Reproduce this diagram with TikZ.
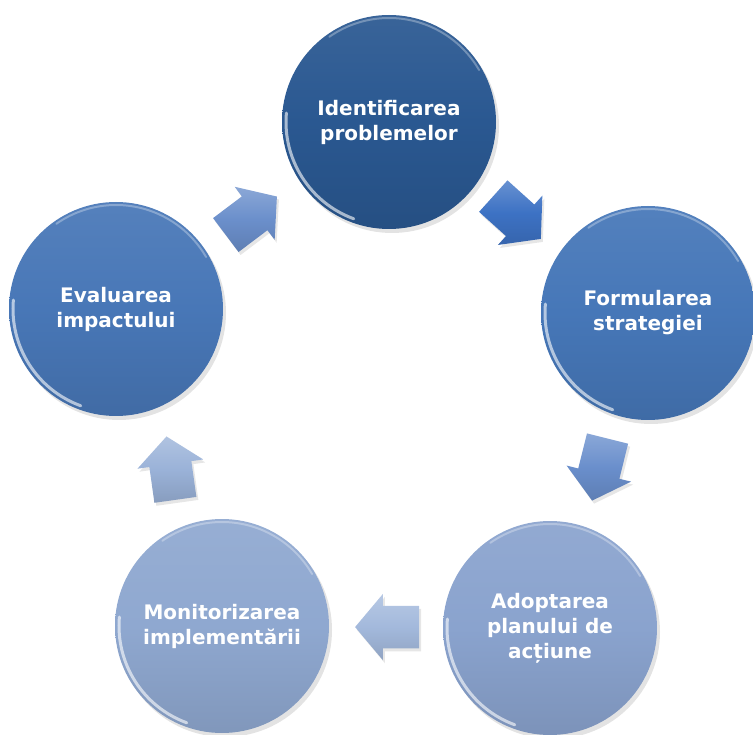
\documentclass[tikz,border=0pt]{standalone}
\usepackage{fontspec}
\setmainfont{DejaVu Sans}
\usetikzlibrary{shapes.arrows,shadows,calc}
\definecolor{cT}{RGB}{42,88,145}
\definecolor{cR}{RGB}{70,119,184}
\definecolor{cL}{RGB}{72,119,183}
\definecolor{cBR}{RGB}{138,163,206}
\definecolor{cBL}{RGB}{143,168,208}
\definecolor{aA}{RGB}{61,114,196}
\definecolor{aB}{RGB}{106,143,204}
\definecolor{aC}{RGB}{163,185,220}
\definecolor{aD}{RGB}{154,178,216}
\definecolor{aE}{RGB}{107,143,203}
\begin{document}
\begin{tikzpicture}[x=1pt,y=1pt,
  stage/.style={circle, minimum size=214pt, inner sep=0pt, text=white,
    font=\fontsize{20}{25}\selectfont\bfseries, align=center,
    top color=#1!93!white, bottom color=#1!90!black, middle color=#1,
    drop shadow={opacity=0.22, shadow xshift=3pt, shadow yshift=-4pt}},
  blockarrow/.style={single arrow, single arrow head extend=12pt,
    single arrow tip angle=100, minimum height=64pt,
    inner sep=0pt, text height=42pt, text depth=0pt,
    top color=#1!78!white, bottom color=#1!88!black, middle color=#1,
    drop shadow={opacity=0.2, shadow xshift=2pt, shadow yshift=-3pt}},
  rim/.style={white, line width=3pt, opacity=0.6, line cap=round},
  softrim/.style={white, line width=2pt, opacity=0.3, line cap=round}
]
\useasboundingbox (0,0) rectangle (753,-735);

\node[stage=cT]  (T)  at (389,-122) {Identificarea\\problemelor};
\node[stage=cR]  (R)  at (648,-313) {Formularea\\strategiei};
\node[stage=cBR] (BR) at (550,-628) {Adoptarea\\planului de\\acțiune};
\node[stage=cBL] (BL) at (222,-626) {Monitorizarea\\implementării};
\node[stage=cL]  (L)  at (116,-309) {Evaluarea\\impactului};

\foreach \n in {T,R,BR,BL,L}{
  \draw[rim] ($(\n)+(175:103)$) arc[start angle=175, end angle=250, radius=103];
  \draw[softrim] ($(\n)+(30:104)$) arc[start angle=30, end angle=125, radius=104];
}

\node[blockarrow=aA, rotate=-42]  (a1) at ($($(T)!0.5!(R)$)!10pt!(T)$) {};
\node[blockarrow=aB, rotate=-104] (a2) at ($($(R)!0.5!(BR)$)!10pt!(R)$) {};
\node[blockarrow=aC, rotate=180]  (a3) at ($($(BR)!0.5!(BL)$)!10pt!(BR)$) {};
\node[blockarrow=aD, rotate=98]   (a4) at ($($(BL)!0.5!(L)$)!10pt!(BL)$) {};
\node[blockarrow=aE, rotate=37]   (a5) at ($($(L)!0.5!(T)$)!10pt!(L)$) {};
\end{tikzpicture}
\end{document}
